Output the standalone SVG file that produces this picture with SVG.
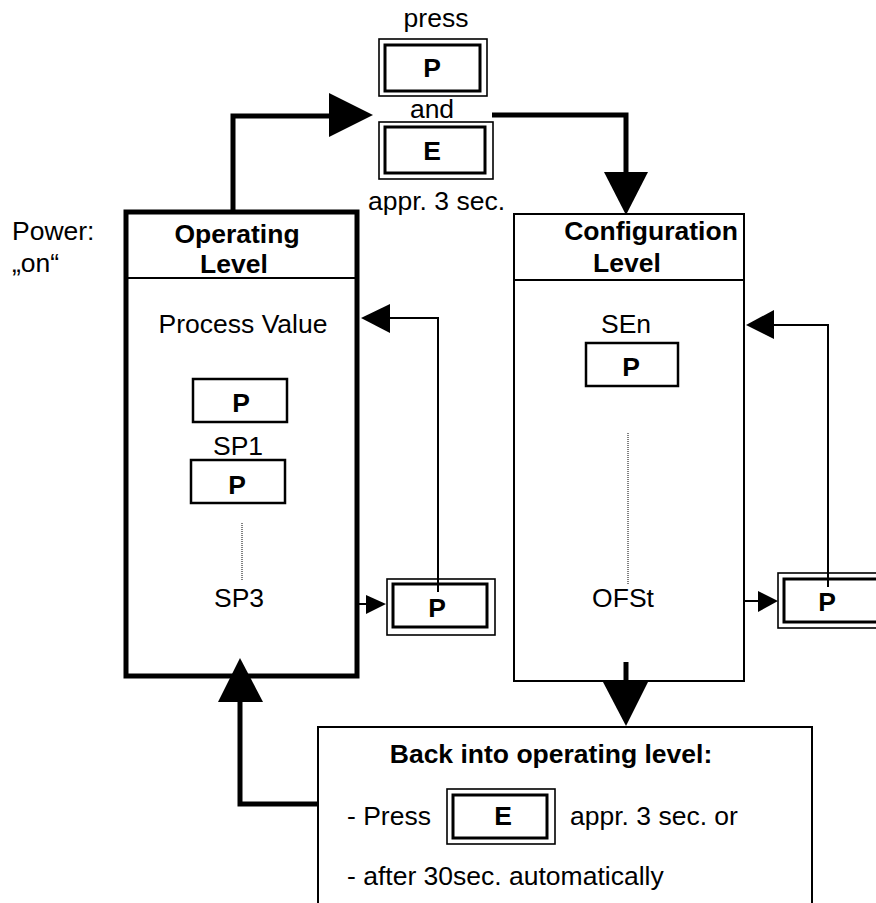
<svg xmlns="http://www.w3.org/2000/svg" width="876" height="903" viewBox="0 0 876 903">
<style>
text{font-family:"Liberation Sans",Arial,sans-serif;font-size:26.5px;fill:#000}
.b{font-weight:bold}
.m{text-anchor:middle}
.outer{fill:none;stroke:#000;stroke-width:1.6}
.inner{fill:none;stroke:#000;stroke-width:3}
.key{fill:#fff;stroke:#000;stroke-width:2.5}
.thick{fill:none;stroke:#000;stroke-width:5}
.thin{fill:none;stroke:#000;stroke-width:2}
.dot{fill:none;stroke:#000;stroke-width:1;stroke-dasharray:1 1}
.head{fill:#000;stroke:none}
</style>
<rect width="876" height="903" fill="#fff"/>

<g id="top-keys">
<text x="436" y="27" class="m">press</text>
<rect x="379" y="39" width="108" height="57" class="outer"/>
<rect x="385" y="45" width="95" height="46" class="inner"/>
<text x="432" y="77" class="m b">P</text>
<text x="432" y="118" class="m">and</text>
<rect x="379" y="122" width="114" height="57" class="outer"/>
<rect x="385" y="127" width="100" height="46" class="inner"/>
<text x="432" y="160" class="m b">E</text>
<text x="368" y="210">appr. 3 sec.</text>
</g>

<g id="power">
<text x="12" y="240">Power:</text>
<text x="12" y="272">„on“</text>
</g>

<g id="operating-level">
<rect x="126" y="212" width="231" height="464" fill="#fff" stroke="#000" stroke-width="5"/>
<line x1="126" y1="278" x2="357" y2="278" stroke="#000" stroke-width="2"/>
<text x="237" y="243" class="m b">Operating</text>
<text x="234" y="273" class="m b">Level</text>
<text x="243" y="333" class="m">Process Value</text>
<rect x="193" y="379" width="94" height="43" class="key"/>
<text x="241" y="412" class="m b">P</text>
<text x="238" y="455" class="m">SP1</text>
<rect x="191" y="460" width="94" height="43" class="key"/>
<text x="237" y="494" class="m b">P</text>
<line x1="242" y1="523" x2="242" y2="580" class="dot"/>
<text x="239" y="607" class="m">SP3</text>
</g>

<g id="op-p-key">
<rect x="387" y="579" width="108" height="56" class="outer"/>
<rect x="393" y="584" width="94" height="43" class="inner"/>
<text x="437" y="617" class="m b">P</text>
</g>

<g id="configuration-level">
<rect x="514" y="214" width="230" height="467" fill="#fff" stroke="#000" stroke-width="2"/>
<line x1="514" y1="280" x2="744" y2="280" stroke="#000" stroke-width="2"/>
<text x="651" y="240" class="m b">Configuration</text>
<text x="627" y="272" class="m b">Level</text>
<text x="626" y="333" class="m">SEn</text>
<rect x="586" y="343" width="92" height="43" class="key"/>
<text x="631" y="376" class="m b">P</text>
<line x1="628" y1="433" x2="628" y2="585" class="dot"/>
<text x="623" y="607" class="m">OFSt</text>
</g>

<g id="conf-p-key">
<rect x="778" y="573" width="110" height="55" class="outer"/>
<rect x="784" y="579" width="98" height="43" class="inner"/>
<text x="827" y="611" class="m b">P</text>
</g>

<g id="back-box">
<rect x="318" y="727" width="494" height="200" fill="#fff" stroke="#000" stroke-width="2"/>
<text x="551" y="763" class="m b">Back into operating level:</text>
<text x="347" y="825">- Press</text>
<rect x="447" y="789" width="108" height="55" class="outer"/>
<rect x="453" y="795" width="94" height="43" class="inner"/>
<text x="503" y="825" class="m b">E</text>
<text x="570" y="825">appr. 3 sec. or</text>
<text x="347" y="885">- after 30sec. automatically</text>
</g>

<g id="connectors">
<polyline points="233,210 233,116 331,116" class="thick"/>
<polygon points="329,93 373,115 329,137" class="head"/>
<polyline points="492,115 626,115 626,174" class="thick"/>
<polygon points="604,172 648,172 626,215" class="head"/>
<line x1="358" y1="604" x2="368" y2="604" class="thin"/>
<polygon points="366,595 386,604 366,614" class="head"/>
<polyline points="438,592 438,318 388,318" class="thin"/>
<polygon points="390,304 361,318 390,333" class="head"/>
<line x1="744" y1="601" x2="760" y2="601" class="thin"/>
<polygon points="758,591 778,601 758,612" class="head"/>
<polyline points="828,587 828,325 772,325" class="thin"/>
<polygon points="774,310 746,325 774,339" class="head"/>
<line x1="626" y1="662" x2="626" y2="684" class="thick"/>
<polygon points="603,682 648,682 626,726" class="head"/>
<polyline points="318,804 240,804 240,700" class="thick"/>
<polygon points="218,702 263,702 240,658" class="head"/>
</g>
</svg>
